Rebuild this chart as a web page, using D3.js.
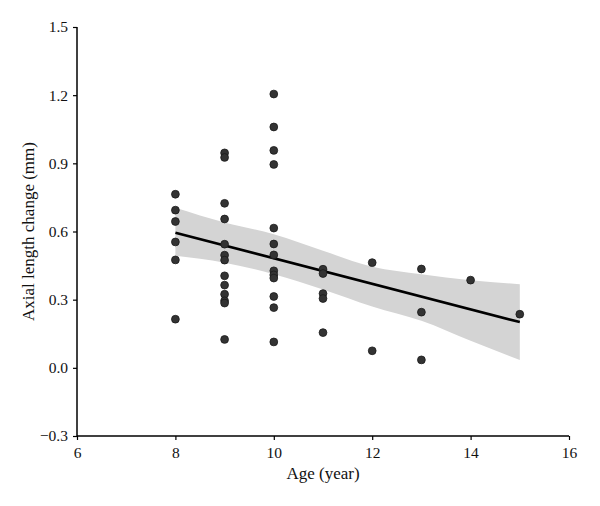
<!DOCTYPE html>
<html><head><meta charset="utf-8">
<script src="https://cdn.jsdelivr.net/npm/d3@7"></script>
<style>body{margin:0;background:#fff}svg{display:block}</style>
</head><body><svg id="c" width="600" height="506"></svg>
<script>
const ages = [8,8,8,8,8,8,
  9,9,9,9,9,9,9,9,9,9,9,9,9,
  10,10,10,10,10,10,10,10,10,10,10,10,10,
  11,11,11,11,11, 12,12, 13,13,13, 14, 15];
const changes = [0.764,0.694,0.644,0.554,0.475,0.214,
  0.946,0.926,0.724,0.655,0.544,0.496,0.474,0.405,0.364,0.324,0.295,0.285,0.125,
  1.205,1.06,0.957,0.895,0.615,0.545,0.497,0.427,0.409,0.395,0.314,0.265,0.114,
  0.434,0.415,0.327,0.305,0.155, 0.463,0.075, 0.435,0.245,0.035, 0.386, 0.236];
const bandAges = [8,9,10,11,12,13,14,15];
const bandUpper = [0.705,0.64,0.588,0.515,0.445,0.412,0.386,0.368];
const bandLower = [0.493,0.463,0.412,0.345,0.27,0.207,0.119,0.034];
const xTicks = [6,8,10,12,14,16];
const yTicks = [-0.3,0,0.3,0.6,0.9,1.2,1.5];

const svg = d3.select('#c');
const m = {l:77, r:31, t:27, b:70};
const W = 600, H = 506;
const x = d3.scaleLinear().domain([6,16]).range([m.l, W-m.r]);
const y = d3.scaleLinear().domain([-0.3,1.5]).range([H-m.b, m.t]);
const font = '"Liberation Serif","DejaVu Serif",serif';

// regression
const n = ages.length;
const mx = d3.mean(ages), my = d3.mean(changes);
let sxx=0, sxy=0;
for(let i=0;i<n;i++){sxx+=(ages[i]-mx)**2; sxy+=(ages[i]-mx)*(changes[i]-my);}
const slope = sxy/sxx, icpt = my - slope*mx;
const x0 = d3.min(ages), x1 = d3.max(ages);

// band
const band = bandAges.map((a,i)=>({a, lo:bandLower[i], hi:bandUpper[i]}));
svg.append('path').datum(band)
  .attr('d', d3.area().x(d=>x(d.a)).y0(d=>y(d.lo)).y1(d=>y(d.hi)).curve(d3.curveMonotoneX))
  .attr('fill','#d4d4d4');

svg.append('line')
  .attr('x1',x(x0)).attr('y1',y(icpt+slope*x0))
  .attr('x2',x(x1)).attr('y2',y(icpt+slope*x1))
  .attr('stroke','#000').attr('stroke-width',2.6);

svg.append('g').selectAll('circle').data(ages).join('circle')
  .attr('cx',(d)=>x(d)).attr('cy',(d,i)=>y(changes[i])).attr('r',3.9)
  .attr('fill','#333').attr('stroke','#1a1a1a').attr('stroke-width',0.8);

// axes
const ax = svg.append('g').attr('transform',`translate(0,${H-m.b})`)
  .call(d3.axisBottom(x).tickValues(xTicks).tickSize(4).tickPadding(7).tickFormat(d3.format('d')));
const ay = svg.append('g').attr('transform',`translate(${m.l},0)`)
  .call(d3.axisLeft(y).tickValues(yTicks).tickSize(4).tickPadding(5)
    .tickFormat(d=> d<0 ? '\u2212'+Math.abs(d).toFixed(1) : d.toFixed(1)));
[ax,ay].forEach(g=>{
  g.select('.domain').attr('stroke','#000').attr('stroke-width',1.5);
  g.selectAll('.tick line').attr('stroke','#000').attr('stroke-width',1.2);
  g.selectAll('.tick text').attr('font-family',font).attr('font-size',15.5).attr('fill','#111');
});
ax.select('.domain').attr('d',`M${m.l},0H${W-m.r}`);
ay.select('.domain').attr('d',`M0,${y(1.5)}V${y(-0.3)}`);

svg.append('text').attr('x',(m.l+W-m.r)/2).attr('y',479)
  .attr('text-anchor','middle').attr('font-family',font).attr('font-size',17).attr('fill','#111')
  .text('Age (year)');
svg.append('text').attr('transform',`translate(34,${(m.t+H-m.b)/2}) rotate(-90)`)
  .attr('text-anchor','middle').attr('font-family',font).attr('font-size',17).attr('fill','#111')
  .text('Axial length change (mm)');
</script></body></html>
